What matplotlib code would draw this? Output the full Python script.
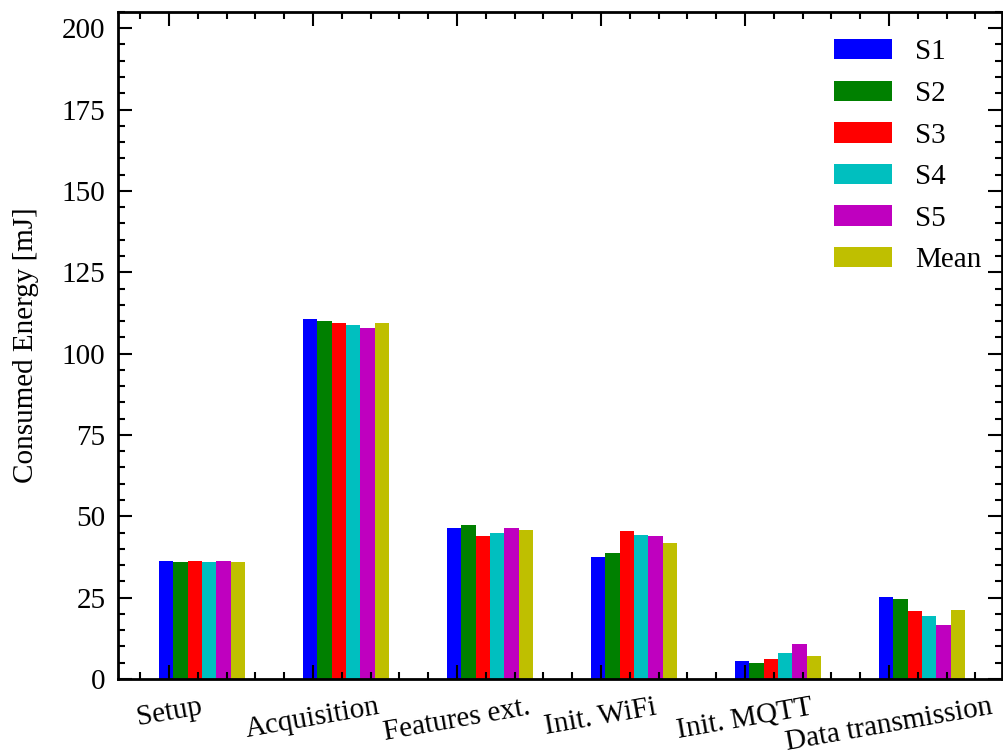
import matplotlib
matplotlib.use("Agg")
import matplotlib.pyplot as plt
from matplotlib.ticker import MultipleLocator, AutoMinorLocator
import numpy as np

plt.rcParams['font.family'] = ['Liberation Serif', 'DejaVu Serif']

phases = ["Setup", "Acquisition", "Features ext.", "Init. WiFi", "Init. MQTT", "Data transmission"]
series = ["S1", "S2", "S3", "S4", "S5", "Mean"]

s1 = [36.3, 110.6, 46.4, 37.5, 5.5, 25.2]
s2 = [35.9, 110.0, 47.3, 38.7, 4.9, 24.6]
s3 = [36.2, 109.4, 43.9, 45.5, 6.1, 20.9]
s4 = [35.9, 108.8, 44.9, 44.2, 8.0, 19.4]
s5 = [36.2, 107.8, 46.4, 43.9, 10.8, 16.6]
mean = [36.1, 109.4, 45.8, 41.8, 7.1, 21.2]

colors = ['b', 'g', 'r', 'c', 'm', 'y']
fs = 21

fig = plt.figure(figsize=(10.04, 7.56), dpi=100)
ax = fig.add_axes([0.1175, 0.1019, 0.8805, 0.8823])

x = np.arange(len(phases))
width = 0.1
for i, (vals, name) in enumerate(zip([s1, s2, s3, s4, s5, mean], series)):
    ax.bar(x + i * width - 0.02, vals, width, color=colors[i], label=name)

ax.set_xlim(-0.354, 5.785)
ax.set_ylim(0, 205)
ax.set_xticks(x)
ax.set_xticklabels(phases, rotation=10, ha='center')
ax.yaxis.set_major_locator(MultipleLocator(25))
ax.yaxis.set_minor_locator(AutoMinorLocator(5))
ax.xaxis.set_minor_locator(AutoMinorLocator(5))

ax.tick_params(which='both', direction='in', top=True, right=True, labelsize=fs)
ax.tick_params(which='major', length=10, width=1.5)
ax.tick_params(which='minor', length=5, width=1.5)
ax.tick_params(axis='x', which='major', pad=11)
ax.tick_params(axis='y', which='major', pad=9)
for sp in ax.spines.values():
    sp.set_linewidth(2)

ax.set_ylabel("Consumed Energy [mJ]", fontsize=fs, labelpad=16)
ax.legend(loc='upper right', bbox_to_anchor=(1.0, 0.99), frameon=False,
          fontsize=fs, borderaxespad=0.3, labelspacing=0.52)

fig.savefig("out.png", dpi=100)
